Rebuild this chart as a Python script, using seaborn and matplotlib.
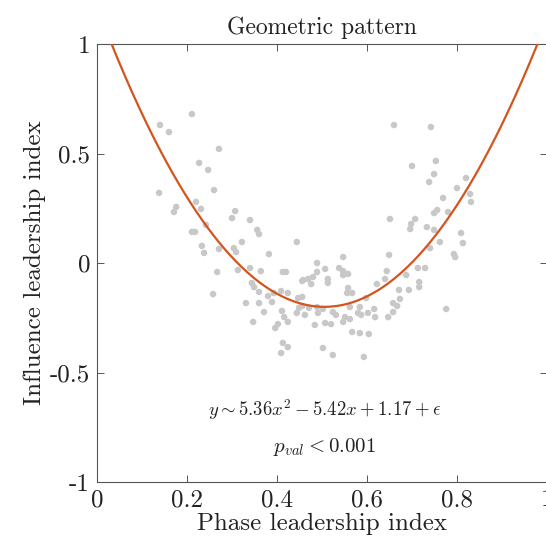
import matplotlib
matplotlib.use("Agg")
import matplotlib.pyplot as plt
import seaborn as sns
import numpy as np
import pandas as pd

# ---- data ----
phase_idx = [
    0.211, 0.140, 0.160, 0.271, 0.227, 0.247, 0.260, 0.138, 0.220, 0.176,
    0.231, 0.171, 0.307, 0.300, 0.340, 0.356, 0.360, 0.242, 0.211, 0.218,
    0.660, 0.742, 0.753, 0.700, 0.749, 0.738, 0.820, 0.800, 0.829, 0.831,
    0.769, 0.756, 0.749, 0.780, 0.651, 0.707, 0.698, 0.696, 0.733, 0.749,
    0.809, 0.813, 0.762, 0.740, 0.649, 0.793, 0.796, 0.713, 0.729, 0.644,
    0.687, 0.716, 0.716, 0.622, 0.640, 0.671, 0.693, 0.673, 0.658, 0.667,
    0.776, 0.658, 0.618, 0.647, 0.616,
    0.233, 0.238, 0.271, 0.304, 0.309, 0.322, 0.382, 0.444, 0.267, 0.313,
    0.340, 0.364, 0.413, 0.420, 0.456, 0.258, 0.344, 0.349, 0.360, 0.380,
    0.393, 0.409, 0.424, 0.331, 0.360, 0.389, 0.371, 0.411, 0.416, 0.424,
    0.347, 0.402, 0.396, 0.449, 0.456, 0.444, 0.447, 0.456, 0.413, 0.424,
    0.409,
    0.547, 0.489, 0.507, 0.538, 0.547, 0.558, 0.547, 0.458, 0.469, 0.480,
    0.489, 0.476, 0.513, 0.513, 0.558, 0.556, 0.567, 0.598, 0.471, 0.489,
    0.502, 0.562, 0.584, 0.462, 0.491, 0.524, 0.531, 0.580, 0.587, 0.602,
    0.551, 0.562, 0.547, 0.507, 0.520, 0.484, 0.567, 0.584, 0.604, 0.502,
    0.524, 0.593,
]
influence_idx = [
    0.680, 0.630, 0.598, 0.521, 0.457, 0.425, 0.333, 0.320, 0.279, 0.256,
    0.247, 0.233, 0.237, 0.205, 0.196, 0.151, 0.132, 0.174, 0.142, 0.142,
    0.630, 0.621, 0.466, 0.443, 0.406, 0.370, 0.388, 0.342, 0.315, 0.279,
    0.297, 0.242, 0.228, 0.233, 0.201, 0.201, 0.178, 0.155, 0.164, 0.151,
    0.137, 0.091, 0.096, 0.068, 0.037, 0.041, 0.027, -0.023, -0.023, -0.037,
    -0.055, -0.087, -0.110, -0.096, -0.073, -0.123, -0.123, -0.164, -0.183, -0.196,
    -0.210, -0.224, -0.247, -0.247, -0.210,
    0.078, 0.046, 0.064, 0.068, 0.050, 0.096, 0.041, 0.096, -0.041, -0.032,
    -0.023, -0.037, -0.041, -0.041, -0.082, -0.142, -0.091, -0.110, -0.132, -0.151,
    -0.137, -0.128, -0.137, -0.183, -0.183, -0.178, -0.224, -0.219, -0.247, -0.269,
    -0.269, -0.279, -0.297, -0.205, -0.196, -0.228, -0.160, -0.155, -0.365, -0.384,
    -0.411,
    0.027, 0.000, -0.027, -0.023, -0.037, -0.050, -0.055, -0.078, -0.073, -0.064,
    -0.041, -0.096, -0.073, -0.091, -0.114, -0.137, -0.137, -0.160, -0.205, -0.201,
    -0.210, -0.201, -0.201, -0.237, -0.228, -0.224, -0.237, -0.228, -0.237, -0.228,
    -0.247, -0.256, -0.269, -0.274, -0.279, -0.283, -0.315, -0.320, -0.324, -0.388,
    -0.420, -0.429,
]
fit_coeffs = [5.36, -5.42, 1.17]   # quadratic fit shown in the annotation

x_ticks = [0, 0.2, 0.4, 0.6, 0.8, 1]
x_ticklabels = ["0", "0.2", "0.4", "0.6", "0.8", "1"]
y_ticks = [-1, -0.5, 0, 0.5, 1]
y_ticklabels = ["-1", "-0.5", "0", "0.5", "1"]

title = "Geometric pattern"
xlabel = "Phase leadership index"
ylabel = "Influence leadership index"
eq_text = r"$y \sim 5.36x^2 - 5.42x + 1.17 + \epsilon$"
p_text = r"$p_{val} < 0.001$"

# ---- styling ----
sns.set_theme(style="white")
plt.rcParams["font.family"] = ["serif"]
plt.rcParams["font.serif"] = ["cmr10", "DejaVu Serif"]
plt.rcParams["mathtext.fontset"] = "cm"
plt.rcParams["axes.unicode_minus"] = False
plt.rcParams["axes.formatter.use_mathtext"] = True

df = pd.DataFrame({"phase": phase_idx, "influence": influence_idx})
xs = np.linspace(0, 1, 400)
fit_df = pd.DataFrame({"phase": xs, "influence": np.polyval(fit_coeffs, xs)})

fig = plt.figure(figsize=(5.46, 5.46), dpi=100)
ax = fig.add_axes([97 / 546, 64 / 546, 450 / 546, 438 / 546])

sns.scatterplot(data=df, x="phase", y="influence", ax=ax, color="#c8c8c8",
                s=22, edgecolor="none", linewidth=0, zorder=2)
sns.lineplot(data=fit_df, x="phase", y="influence", ax=ax, color="#d4541e",
             linewidth=1.6, zorder=3)

ax.set_xlim(0, 1)
ax.set_ylim(-1, 1)
ax.set_xticks(x_ticks)
ax.set_xticklabels(x_ticklabels)
ax.set_yticks(y_ticks)
ax.set_yticklabels(y_ticklabels)
ax.tick_params(direction="in", length=5, width=0.7, color="#555555",
               labelsize=18, labelcolor="#222222", top=True, right=True,
               left=True, bottom=True, pad=5)
for sp in ax.spines.values():
    sp.set_color("#555555")
    sp.set_linewidth(0.8)
    sp.set_visible(True)

ax.set_title(title, fontsize=17, color="#222222", pad=7)
ax.set_xlabel(xlabel, fontsize=18, color="#222222", labelpad=1)
ax.set_ylabel(ylabel, fontsize=18, color="#222222", labelpad=3)

ax.text(0.505, -0.67, eq_text, ha="center", va="center", fontsize=13.5, color="#222222")
ax.text(0.505, -0.84, p_text, ha="center", va="center", fontsize=15, color="#222222")

fig.savefig("out.png", dpi=100)
